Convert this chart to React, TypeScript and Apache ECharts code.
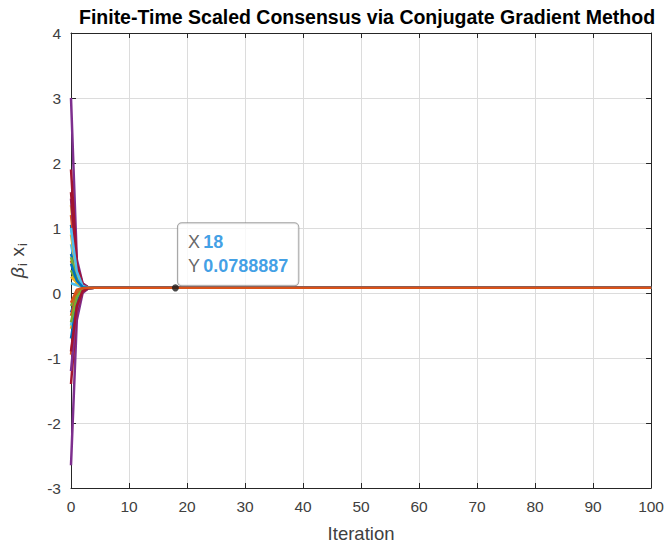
import React, { useEffect, useRef } from "react";
import * as echarts from "echarts";

const titleText = "Finite-Time Scaled Consensus via Conjugate Gradient Method";
const xName = "Iteration";
const consensus = 0.0788887;
const tipX = 18;
const xMin = 0;
const xMax = 100;
const yMin = -3;
const yMax = 4;

const palette = ["#0072BD", "#D95319", "#EDB120", "#7E2F8E", "#77AC30", "#4DBEEE", "#A2142F"];

// agent values at iterations 0..3 (after that, all agents sit on the consensus value)
const iter0 = [1.05, -0.95, 1.35, 3.0, 0.35, 0.75, 1.9, -0.3, 0.5, -0.55, -2.65, -0.2, -0.5, -1.4, 0.6, 1.2, 0.9, 1.45, 0.55, 0.15, 1.55, -0.7, -0.35, 0.25, -1.2, -0.45, 1.0, -0.9, 0.45, -0.15];
const iter1 = [0.32, -0.18, 0.41, 0.52, 0.15, 0.28, 0.45, -0.05, 0.22, -0.12, -0.42, 0.01, -0.08, -0.28, 0.27, 0.36, 0.3, 0.38, 0.21, 0.12, 0.4, -0.15, -0.02, 0.16, -0.25, -0.06, 0.33, -0.2, 0.19, 0.05];
const iter2 = [0.11, 0.05, 0.13, 0.15, 0.09, 0.1, 0.14, 0.06, 0.1, 0.04, 0.0, 0.07, 0.05, 0.02, 0.11, 0.12, 0.1, 0.13, 0.09, 0.085, 0.12, 0.04, 0.06, 0.09, 0.03, 0.06, 0.11, 0.03, 0.09, 0.075];
const iter3 = [0.082, 0.076, 0.084, 0.086, 0.08, 0.081, 0.085, 0.077, 0.081, 0.075, 0.072, 0.078, 0.076, 0.074, 0.082, 0.083, 0.081, 0.084, 0.08, 0.079, 0.083, 0.075, 0.077, 0.08, 0.074, 0.077, 0.082, 0.075, 0.08, 0.079];

const FONT = "'Liberation Sans', Arial, Helvetica, sans-serif";
const TEXT = "#404040";

export default function App() {
  const ref = useRef<HTMLDivElement>(null);
  useEffect(() => {
    document.body.style.margin = "0";
    if (!ref.current) return;
    const chart = echarts.init(ref.current, null, { renderer: "svg" });

    const early = [iter0, iter1, iter2, iter3];
    const series: any[] = iter0.map((_, a) => {
      const data: number[][] = [];
      for (let t = xMin; t <= xMax; t++) {
        data.push([t, t < early.length ? early[t][a] : consensus]);
      }
      return {
        type: "line",
        data,
        showSymbol: false,
        symbol: "none",
        lineStyle: { width: 2.5, color: palette[a % palette.length] },
        silent: true,
      };
    });

    series.push({
      type: "scatter",
      data: [[tipX, consensus]],
      symbolSize: 7,
      itemStyle: { color: "#1a1a1a", borderColor: "#1a1a1a", borderWidth: 0 },
      z: 10,
      label: {
        show: true,
        position: [6, 1],
        align: "left",
        verticalAlign: "bottom",
        backgroundColor: "#ffffff",
        borderColor: "#8a8a8a",
        borderWidth: 1,
        borderRadius: 4,
        padding: [7, 10, 7, 10],
        lineHeight: 24,
        formatter: `{k|X} {v|${tipX}}\n{k|Y} {v|${consensus}}`,
        rich: {
          k: { fontSize: 18, color: "#404040", fontFamily: FONT, lineHeight: 24 },
          v: { fontSize: 18, color: "#0f87de", fontWeight: "bold", fontFamily: FONT, lineHeight: 24 },
        },
      },
    });

    const axisCommon = {
      type: "value",
      axisLine: { show: true, onZero: false, lineStyle: { color: "#262626", width: 1 } },
      axisTick: { show: true, inside: true, length: 5, lineStyle: { color: "#262626" } },
    };

    chart.setOption({
      animation: false,
      title: {
        text: titleText,
        left: 362,
        textAlign: "center",
        top: 2,
        textStyle: { fontFamily: FONT, fontSize: 19.5, fontWeight: "bold", color: "#000" },
      },
      grid: { left: 71, right: 15, top: 33, bottom: 58, containLabel: false },
      xAxis: [
        {
          ...axisCommon,
          min: xMin,
          max: xMax,
          interval: 10,
          name: xName,
          nameLocation: "middle",
          nameGap: 36,
          nameTextStyle: { fontFamily: FONT, fontSize: 18.5, color: TEXT },
          axisLabel: { fontFamily: FONT, fontSize: 15.5, color: TEXT, margin: 10 },
          splitLine: { show: true, lineStyle: { color: "#dcdcdc", width: 1 } },
        },
        {
          ...axisCommon,
          position: "top",
          min: xMin,
          max: xMax,
          interval: 10,
          axisLabel: { show: false },
          splitLine: { show: false },
        },
      ],
      yAxis: [
        {
          ...axisCommon,
          min: yMin,
          max: yMax,
          interval: 1,
          name: "{b|β}{s|i}  {x|x}{s|i}",
          nameLocation: "middle",
          nameGap: 42,
          nameTextStyle: {
            rich: {
              b: { fontFamily: FONT, fontSize: 19, fontStyle: "italic", color: TEXT },
              x: { fontFamily: FONT, fontSize: 19, color: TEXT },
              s: { fontFamily: FONT, fontSize: 13, color: TEXT, verticalAlign: "bottom", padding: [10, 0, 0, 1] },
            },
          },
          axisLabel: { fontFamily: FONT, fontSize: 15.5, color: TEXT, margin: 10 },
          splitLine: { show: true, lineStyle: { color: "#dcdcdc", width: 1 } },
        },
        {
          ...axisCommon,
          position: "right",
          min: yMin,
          max: yMax,
          interval: 1,
          axisLabel: { show: false },
          splitLine: { show: false },
        },
      ],
      series,
    });
    return () => chart.dispose();
  }, []);
  return <div ref={ref} style={{ width: 667, height: 548 }} />;
}
